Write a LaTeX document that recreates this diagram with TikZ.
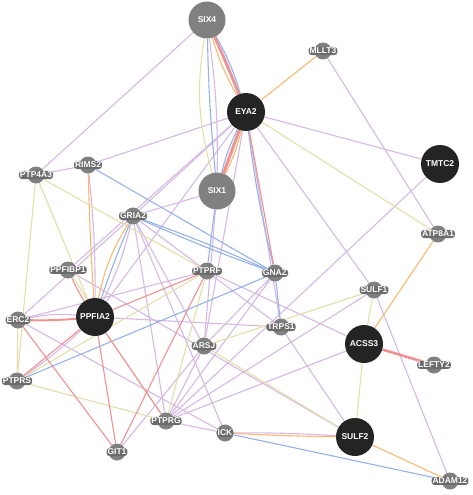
\documentclass[tikz,border=0pt]{standalone}
\usepackage{fontspec}
\setmainfont{Liberation Sans}
\usepackage{xcolor}
\usepackage{tikz}
\usetikzlibrary{backgrounds}
\definecolor{nodegray}{RGB}{128,128,128}
\definecolor{halogray}{RGB}{108,108,108}
\definecolor{querydark}{RGB}{36,36,36}
\definecolor{coexpC}{RGB}{214,184,228}
\definecolor{physC}{RGB}{238,146,146}
\definecolor{predC}{RGB}{248,186,112}
\definecolor{colocC}{RGB}{150,178,234}
\definecolor{shdomC}{RGB}{228,222,170}
\tikzset{
  coexp/.style={coexpC, line width=1.1pt},
  phys/.style={physC, line width=1.1pt},
  pred/.style={predC, line width=1.1pt},
  coloc/.style={colocC, line width=1.1pt},
  shdom/.style={shdomC, line width=1.1pt},
  glabel/.style={fill=halogray, rounded corners=3pt, inner sep=1pt, text=white,
    font=\bfseries\fontsize{8.5}{9}\selectfont},
  gene/.style={circle, fill=nodegray, minimum size=17pt, inner sep=0pt,
    label={[glabel]center:#1}},
  hub/.style={circle, fill=nodegray, minimum size=37pt, inner sep=0pt, text=white,
    font=\bfseries\fontsize{8.5}{9}\selectfont},
  query/.style={hub, fill=querydark, minimum size=38pt},
}

\begin{document}
\begin{tikzpicture}[x=1pt, y=-1pt]
\useasboundingbox (0,0) rectangle (472,495);
% --- query genes (dark) ---
\node[query] (eya2) at (246,112) {EYA2};
\node[query] (tmtc2) at (440,164) {TMTC2};
\node[query] (ppfia2) at (95,317) {PPFIA2};
\node[query] (acss3) at (364,344) {ACSS3};
\node[query] (sulf2) at (355,437) {SULF2};
% --- large related genes ---
\node[hub] (six4) at (207,20) {SIX4};
\node[hub] (six1) at (217,191) {SIX1};
% --- small related genes ---
\node[gene=MLLT3] (mllt3) at (323,51) {};
\node[gene=RIMS2] (rims2) at (88,165) {};
\node[gene=PTP4A3] (ptp4a3) at (36,175) {};
\node[gene=GRIA2] (gria2) at (133,216) {};
\node[gene=ATP8A1] (atp8a1) at (438,234) {};
\node[gene=PPFIBP1] (ppfibp1) at (68,270) {};
\node[gene=PTPRF] (ptprf) at (207,271) {};
\node[gene=GNAZ] (gnaz) at (275,273) {};
\node[gene=SULF1] (sulf1) at (374,290) {};
\node[gene=ERC2] (erc2) at (18,320) {};
\node[gene=TRPS1] (trps1) at (281,327) {};
\node[gene=ARSJ] (arsj) at (204,346) {};
\node[gene=LEFTY2] (lefty2) at (434,365) {};
\node[gene=PTPRS] (ptprs) at (17,381) {};
\node[gene=PTPRG] (ptprg) at (166,421) {};
\node[gene=ICK] (ick) at (225,433) {};
\node[gene=GIT1] (git1) at (117,452) {};
\node[gene=ADAM12] (adam12) at (450,481) {};

\begin{scope}[on background layer]
% --- co-expression ---
\foreach \a/\b in {six4/ptp4a3, eya2/tmtc2, eya2/sulf1, eya2/rims2, eya2/gria2,
    eya2/ppfibp1, eya2/trps1, eya2/arsj, eya2/ppfia2, six1/arsj, six1/gria2,
    mllt3/atp8a1, tmtc2/ptprg, rims2/ptp4a3, gria2/trps1, gria2/ptprg,
    gria2/ick, gria2/arsj, gria2/erc2, ppfia2/trps1, erc2/ptprf, erc2/ick,
    gnaz/arsj, trps1/sulf2, arsj/ptprg, ptprf/acss3, sulf1/adam12,
    sulf1/ptprg, acss3/ptprg, ptprg/ick, git1/arsj, ppfibp1/sulf2, gnaz/ptprg}
  \draw[coexp] (\a) -- (\b);
\draw[coexp] (six4) to[bend left=4] (six1);
\draw[coexp] (six4) to[bend left=3] (eya2);
\draw[coexp] (rims2) to[bend left=3] (ppfia2);
\draw[coexp] (gria2) to[bend left=6] (ppfia2);
\draw[coexp] (ppfia2) to[bend right=8] (erc2);
\draw[coexp] (ppfia2) to[bend left=4] (ptprs);
\draw[coexp] (sulf2) to[bend right=2] (ick);
% --- shared protein domains ---
\foreach \a/\b in {eya2/atp8a1, ptp4a3/ptprs, ptp4a3/ppfia2, ptp4a3/ptprf,
    ptprf/ptprs, ptprf/ptprg, ptprs/ptprg, erc2/ptprs, ppfia2/ptprg,
    arsj/sulf1, arsj/sulf2, sulf1/acss3, acss3/sulf2}
  \draw[shdom] (\a) -- (\b);
\draw[shdom] (six4) to[bend right=12] (six1);
\draw[shdom] (ppfibp1) to[bend left=4] (ppfia2);
% --- co-localization ---
\foreach \a/\b in {rims2/gnaz, ptprs/gnaz, gnaz/trps1, ick/adam12, six1/ptprf}
  \draw[coloc] (\a) -- (\b);
\draw[coloc] (six4) to[bend right=2] (six1);
\draw[coloc] (six4) to[bend left=6] (eya2);
\draw[coloc] (eya2) to[bend right=6] (six1);
\draw[coloc] (eya2) to[bend right=3] (gnaz);
\draw[coloc] (gria2) to[bend left=2] (gnaz);
\draw[coloc] (gria2) to[bend right=2] (gnaz);
\draw[coloc] (gria2) to[bend right=2] (ppfia2);
% --- predicted ---
\foreach \a/\b in {eya2/mllt3, atp8a1/acss3, sulf2/adam12}
  \draw[pred] (\a) -- (\b);
\draw[pred] (six4) to[bend right=6] (eya2);
\draw[pred] (eya2) to[bend left=6] (six1);
\draw[pred] (rims2) to[bend right=1] (ppfia2);
\draw[pred] (gria2) to[bend right=10] (ppfia2);
\draw[pred] (ick) to[bend right=1] (sulf2);
% --- physical interactions ---
\foreach \a/\b in {eya2/gnaz, ppfia2/ptprf, ppfia2/ptprs, ppfia2/git1,
    ppfia2/ptprg, erc2/git1, ptprf/git1}
  \draw[phys] (\a) -- (\b);
\draw[phys] (ppfibp1) to[bend right=4] (ppfia2);
\draw[phys, line width=2.6pt] (six4) to[bend left=1] (eya2);
\draw[phys, line width=3pt] (eya2) -- (six1);
\draw[phys, line width=2pt] (ppfia2) to[bend left=3] (erc2);
\draw[phys, line width=2.6pt] (acss3) -- (lefty2);
\end{scope}
\end{tikzpicture}
\end{document}
